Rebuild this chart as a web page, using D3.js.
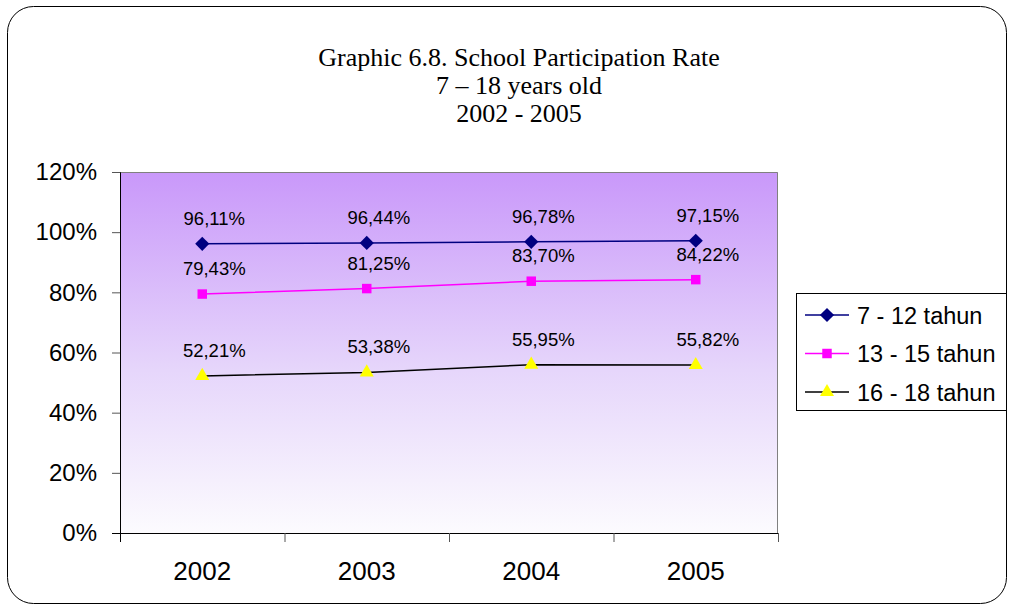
<!doctype html>
<html>
<head>
<style>
  body { margin: 0; background: #fff; }
  text { font-family: Arial, "Liberation Sans", sans-serif; }
</style>
<script src="https://d3js.org/d3.v7.min.js"></script>
</head>
<body>
<svg width="1009" height="605"></svg>
<script>
  var years = ["2002", "2003", "2004", "2005"];
  var s712 = [96.11, 96.44, 96.78, 97.15];
  var s1315 = [79.43, 81.25, 83.70, 84.22];
  var s1618 = [52.21, 53.38, 55.95, 55.82];
  var seriesNames = ["7 - 12 tahun", "13 - 15 tahun", "16 - 18 tahun"];
  var yTicks = [0, 20, 40, 60, 80, 100, 120];
  var titleLines = ["Graphic 6.8. School Participation Rate", "7 \u2013 18 years old", "2002 - 2005"];

  // a diamond that is as wide as it is tall
  var diamond = {
    draw: function (ctx, size) {
      var r = Math.sqrt(size / 2);
      ctx.moveTo(0, -r); ctx.lineTo(r, 0); ctx.lineTo(0, r); ctx.lineTo(-r, 0); ctx.closePath();
    }
  };

  var series = [
    { name: seriesNames[0], values: s712, line: "#000080", fill: "#000080", shape: diamond, size: 100 },
    { name: seriesNames[1], values: s1315, line: "#ff00ff", fill: "#ff00ff", shape: d3.symbolSquare, size: 90 },
    { name: seriesNames[2], values: s1618, line: "#000000", fill: "#ffff00", shape: d3.symbolTriangle, size: 85 }
  ];

  var svg = d3.select("svg");

  // outer frame
  svg.append("rect")
    .attr("x", 7.5).attr("y", 6.5)
    .attr("width", 999).attr("height", 597)
    .attr("rx", 26).attr("ry", 26)
    .attr("fill", "none").attr("stroke", "#000").attr("stroke-width", 1);

  // title
  svg.append("g").selectAll("text")
    .data(titleLines)
    .enter().append("text")
    .attr("x", 519)
    .attr("y", function (d, i) { return 66 + i * 28; })
    .attr("text-anchor", "middle")
    .style("font-family", "'Liberation Serif', 'Times New Roman', serif")
    .style("font-size", "26px")
    .text(function (d) { return d; });

  var pLeft = 120, pTop = 172, pRight = 778, pBottom = 533;
  var width = pRight - pLeft, height = pBottom - pTop;

  var x = d3.scaleBand().domain(years).range([0, width]);
  var y = d3.scaleLinear().domain([0, 120]).range([height, 0]);

  var defs = svg.append("defs");
  var grad = defs.append("linearGradient")
    .attr("id", "bg").attr("x1", 0).attr("y1", 0).attr("x2", 0).attr("y2", 1);
  grad.append("stop").attr("offset", "0%").attr("stop-color", "#c998fa");
  grad.append("stop").attr("offset", "55%").attr("stop-color", "#e6d6fb");
  grad.append("stop").attr("offset", "100%").attr("stop-color", "#fcfbfe");

  var g = svg.append("g").attr("transform", "translate(" + pLeft + "," + pTop + ")");

  g.append("rect")
    .attr("width", width).attr("height", height)
    .attr("fill", "url(#bg)");

  // top and right border of plot area
  g.append("path")
    .attr("d", "M0,0.5H" + (width - 0.5) + "V" + height)
    .attr("fill", "none").attr("stroke", "#808080").attr("stroke-width", 1);

  // y axis
  var yAxis = g.append("g")
    .call(d3.axisLeft(y).tickValues(yTicks).tickSize(8).tickPadding(15)
      .tickFormat(function (d) { return d + "%"; }));
  yAxis.select(".domain").attr("stroke", "#000");
  yAxis.selectAll("line").attr("stroke", "#555");
  yAxis.selectAll("text")
    .style("font-family", "Arial, 'Liberation Sans', sans-serif")
    .style("font-size", "24px").attr("fill", "#000");

  // x axis
  var xAxis = g.append("g")
    .attr("transform", "translate(0," + height + ")")
    .call(d3.axisBottom(x).tickSize(0).tickPadding(29));
  xAxis.select(".domain").remove();
  xAxis.selectAll("text")
    .style("font-family", "Arial, 'Liberation Sans', sans-serif")
    .style("font-size", "26px").attr("fill", "#000");
  g.append("line")
    .attr("x1", -8).attr("x2", width)
    .attr("y1", height + 0.5).attr("y2", height + 0.5)
    .attr("stroke", "#000");
  g.append("g").selectAll("line")
    .data(years.concat(["end"]))
    .enter().append("line")
    .attr("x1", function (d, i) { return i * x.bandwidth() + 0.5; })
    .attr("x2", function (d, i) { return i * x.bandwidth() + 0.5; })
    .attr("y1", height).attr("y2", height + 9)
    .attr("stroke", function (d, i) { return i === 0 ? "#000" : "#555"; });

  var cx = function (d, i) { return x(years[i]) + x.bandwidth() / 2; };

  series.forEach(function (s) {
    var line = d3.line()
      .x(function (d, i) { return cx(d, i); })
      .y(function (d) { return y(d); });

    g.append("path")
      .datum(s.values)
      .attr("d", line)
      .attr("fill", "none")
      .attr("stroke", s.line)
      .attr("stroke-width", 1.5);

    g.append("g").selectAll("path")
      .data(s.values)
      .enter().append("path")
      .attr("transform", function (d, i) { return "translate(" + cx(d, i) + "," + y(d) + ")"; })
      .attr("d", d3.symbol().type(s.shape).size(s.size))
      .attr("fill", s.fill);

    g.append("g").selectAll("text")
      .data(s.values)
      .enter().append("text")
      .attr("x", function (d, i) { return cx(d, i) + 12; })
      .attr("y", function (d) { return y(d) - 19; })
      .attr("text-anchor", "middle")
      .style("font-size", "18.5px")
      .text(function (d) { return d.toFixed(2).replace(".", ",") + "%"; });
  });

  // legend
  var legend = svg.append("g").attr("transform", "translate(796,293)");
  legend.append("rect")
    .attr("x", 0.5).attr("y", 0.5)
    .attr("width", 210).attr("height", 117)
    .attr("fill", "#fff").attr("stroke", "#000");

  series.forEach(function (s, i) {
    var ly = 22 + i * 38.5;
    legend.append("line")
      .attr("x1", 9).attr("x2", 53).attr("y1", ly).attr("y2", ly)
      .attr("stroke", s.line).attr("stroke-width", 1.5);
    legend.append("path")
      .attr("transform", "translate(31," + ly + ")")
      .attr("d", d3.symbol().type(s.shape).size(s.size))
      .attr("fill", s.fill);
    legend.append("text")
      .attr("x", 61).attr("y", ly + 8.5)
      .style("font-size", "23.5px")
      .text(s.name);
  });
</script>
</body>
</html>
